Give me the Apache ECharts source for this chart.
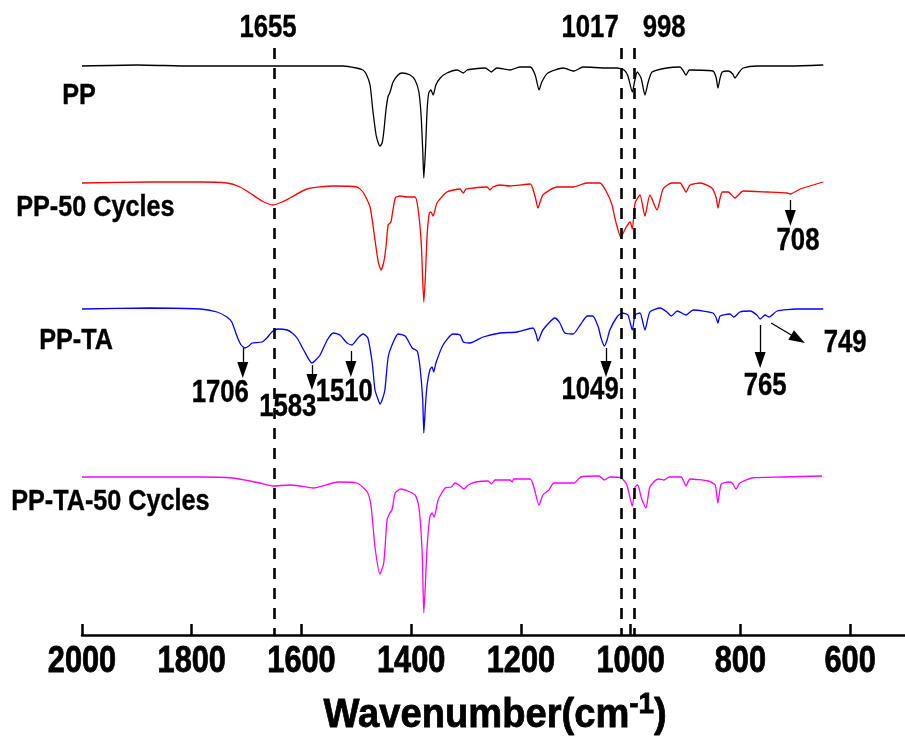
<!DOCTYPE html>
<html>
<head>
<meta charset="utf-8">
<script src="https://cdn.jsdelivr.net/npm/echarts@6.0.0/dist/echarts.min.js"></script>
<style>
  html, body { margin: 0; padding: 0; background: #fff; }
  #chart { width: 905px; height: 736px; }
</style>
</head>
<body>
<div id="chart"></div>
<script>
// FTIR spectra, [wavenumber (cm-1), offset transmittance (a.u.)]
const ppData = [
  [2000,569],[1900,570],[1800,569],[1700,569],[1600,569],[1524,569],[1500,567],[1488,565],[1482,561],
  [1475,550],[1470,525],[1464,500],[1460,492],[1457,489],[1453,492],[1450,503],[1446,525],[1442,539],
  [1439,542],[1433,553],[1424,560],[1417,562],[1402,560],[1393,555],[1386,543],[1382,520],[1379,485],
  [1377,457],[1374,485],[1371,525],[1368,542],[1364,545],[1360,540],[1355,550],[1347,557],[1335,562],
  [1316,565],[1305,562],[1298,565],[1287,566],[1265,567],[1254,563],[1244,567],[1220,565],[1202,568],
  [1183,568],[1174,560],[1167,545],[1162,553],[1151,562],[1123,567],[1103,564],[1087,568],[1043,567],
  [1025,567],[1012,565],[1005,559],[997,543],[993,553],[988,563],[981,557],[974,540],[968,553],
  [961,563],[934,567],[910,568],[905,565],[899,560],[893,565],[850,564],[844,557],[841,547],[837,557],
  [833,563],[822,564],[814,561],[810,557],[802,563],[795,567],[770,569],[710,569],[649,570]
];
const pp50Data = [
  [2000,452],[1876,453],[1785,453],[1736,452],[1712,448],[1694,442],[1672,434],[1652,430],[1635,433],
  [1621,437],[1590,446],[1542,449],[1499,448],[1488,443],[1475,428],[1466,395],[1460,373],[1455,365],
  [1450,373],[1446,388],[1442,410],[1437,413],[1429,437],[1420,439],[1408,438],[1393,438],[1388,428],
  [1382,395],[1379,355],[1377,333],[1374,360],[1371,400],[1367,422],[1364,423],[1360,419],[1353,432],
  [1335,443],[1311,446],[1305,442],[1300,446],[1287,447],[1262,448],[1256,445],[1251,448],[1238,450],
  [1220,449],[1183,451],[1174,438],[1169,427],[1160,440],[1134,448],[1105,448],[1080,452],[1056,452],
  [1043,442],[1034,430],[1027,413],[1018,398],[1008,408],[1001,413],[997,406],[992,432],[983,440],
  [974,419],[965,440],[952,425],[941,446],[925,452],[910,452],[899,443],[892,450],[873,452],[852,447],
  [844,437],[841,427],[837,437],[833,443],[822,443],[810,437],[795,444],[751,443],[715,442],[709,441],
  [691,446],[649,453]
];
const ppTaData = [
  [2000,326],[1876,327],[1785,326],[1754,323],[1736,318],[1727,313],[1717,298],[1710,290],[1703,287],
  [1696,289],[1690,292],[1672,293],[1663,297],[1654,303],[1643,306],[1626,305],[1617,302],[1608,297],
  [1594,283],[1581,272],[1574,275],[1566,280],[1553,295],[1542,302],[1530,300],[1517,292],[1508,290],
  [1497,297],[1488,301],[1479,297],[1471,272],[1466,245],[1460,235],[1457,231],[1453,235],[1448,245],
  [1442,278],[1435,290],[1424,301],[1411,299],[1398,287],[1389,284],[1384,268],[1379,235],[1377,202],
  [1374,230],[1371,250],[1366,265],[1362,268],[1359,263],[1355,272],[1342,290],[1324,301],[1311,300],
  [1305,293],[1293,292],[1269,298],[1238,302],[1207,303],[1178,307],[1172,300],[1169,294],[1160,305],
  [1138,317],[1129,312],[1120,302],[1105,301],[1092,310],[1079,319],[1069,319],[1059,308],[1054,297],
  [1048,289],[1043,295],[1038,305],[1025,318],[1016,322],[1005,320],[997,305],[992,320],[983,322],
  [974,305],[965,323],[946,327],[934,323],[926,319],[915,324],[899,320],[886,325],[850,322],[844,317],
  [841,312],[837,319],[819,321],[812,318],[801,323],[782,324],[770,320],[764,316],[755,320],[748,318],
  [733,324],[697,326],[649,326]
];
const ppTa50Data = [
  [2000,158],[1785,158],[1725,157],[1694,154],[1676,152],[1652,149],[1621,150],[1603,149],[1579,147],
  [1533,153],[1499,152],[1480,143],[1473,128],[1466,88],[1457,61],[1450,72],[1444,115],[1439,122],
  [1435,125],[1429,142],[1419,146],[1393,140],[1386,128],[1380,82],[1377,22],[1371,88],[1366,118],
  [1362,122],[1358,118],[1351,135],[1338,147],[1327,148],[1320,152],[1313,150],[1304,146],[1296,150],
  [1282,153],[1260,154],[1254,151],[1247,155],[1220,155],[1216,153],[1213,156],[1183,156],[1176,147],
  [1167,130],[1160,140],[1149,145],[1140,152],[1103,152],[1091,158],[1058,159],[1048,155],[1038,158],
  [1017,157],[1007,150],[997,129],[992,148],[987,150],[981,138],[972,127],[965,148],[950,156],
  [939,155],[930,158],[908,158],[899,149],[892,156],[859,154],[846,150],[841,132],[835,151],[821,153],
  [815,152],[808,146],[801,152],[779,157],[724,158],[651,159]
];

const seriesNames = ['PP', 'PP-50 Cycles', 'PP-TA', 'PP-TA-50 Cycles'];
const seriesColors = ['#000000', '#ff0000', '#0000ff', '#ff00ff'];
const nameAnchors = [[2036, 539], [2120, 427], [2078, 294], [2129, 133]];

const tickValues = [2000, 1800, 1600, 1400, 1200, 1000, 800, 600];

// vertical reference lines and their labels
const refLineX = [1650, 1018, 993];
const refLabels = ['1655', '1017', '998'];
const refLabelPos = [[1661, 607], [1074, 607], [939, 607]];

// peak annotations: label, label position, arrow start, arrow end
const annoLabels = ['708', '1706', '1583', '1510', '1049', '765', '749'];
const annoLabelPos = [[695,394],[1748,242],[1625,228],[1522,243],[1074,245],[755,249],[609,292]];
const arrowFrom = [[709,435],[1707,287],[1581,270],[1510,284],[1045,287],[764,310],[744,312]];
const arrowTo = [[709,417],[1707,265],[1581,253],[1510,266],[1045,266],[764,275],[695,296]];

const FONT = '"Liberation Sans", Arial, sans-serif';

const chart = echarts.init(document.getElementById('chart'), null, { renderer: 'canvas' });

const spectra = [ppData, pp50Data, ppTaData, ppTa50Data].map((d, i) => ({
  name: seriesNames[i],
  type: 'line',
  data: d,
  showSymbol: false,
  symbol: 'none',
  smooth: 0.2,
  lineStyle: { color: seriesColors[i], width: 1.3 },
  z: 3
}));

// dashed reference lines and arrows hang off the first series
spectra[0].markLine = {
  silent: true,
  animation: false,
  label: { show: false },
  data: [
    ...refLineX.map(x => [
      { coord: [x, 587], symbol: 'none', lineStyle: { type: [11, 9], width: 2.6, color: '#000' } },
      { coord: [x, 0], symbol: 'none' }
    ]),
    ...arrowFrom.map((p, i) => [
      { coord: p, symbol: 'none', lineStyle: { type: 'solid', width: 1.3, color: '#000' } },
      { coord: arrowTo[i], symbol: 'triangle', symbolSize: [11, 16] }
    ])
  ]
};

chart.setOption({
  animation: false,
  backgroundColor: '#fff',
  grid: { left: 82, right: 0, top: 0, bottom: 101, containLabel: false },
  xAxis: {
    type: 'value',
    inverse: true,
    min: 500,
    max: 2000,
    axisLine: { show: true, lineStyle: { color: '#000', width: 2.5 } },
    axisTick: { show: true, inside: true, length: 11, customValues: tickValues, lineStyle: { color: '#000', width: 2.5 } },
    axisLabel: { show: false },
    splitLine: { show: false }
  },
  yAxis: { type: 'value', min: 0, max: 635, show: false },
  series: spectra
});

// text drawn as condensed bold (Arial Narrow look), placed through the axes
const toPx = p => chart.convertToPixel({ seriesIndex: 0 }, p);
const txt = (p, text, size, align, sx, stroke) => {
  const [x, y] = toPx(p);
  return {
    type: 'text', x: x, y: y, scaleX: sx, z: 10, silent: true,
    style: {
      text: text, fontFamily: FONT, fontWeight: 'bold', fontSize: size, fill: '#000',
      stroke: '#000', lineWidth: stroke, align: align, verticalAlign: 'middle'
    }
  };
};

const graphics = [
  ...tickValues.map(t => txt([t, -27], String(t), 37, 'center', 0.83, 0.8)),
  ...seriesNames.map((n, i) => txt(nameAnchors[i], n, 30, 'left', 0.84, 0.4)),
  ...annoLabels.map((n, i) => txt(annoLabelPos[i], n, 31, 'center', 0.83, 0.4)),
  ...refLabels.map((n, i) => txt(refLabelPos[i], n, 31, 'center', 0.83, 0.4))
];

const [nx, ny] = toPx([1247, -78]);
graphics.push({
  type: 'text', x: nx, y: ny, scaleX: 0.93, z: 10, silent: true,
  style: {
    text: '{a|Wavenumber(cm}{b|-1}{a|)}',
    align: 'center', verticalAlign: 'middle',
    rich: {
      a: { fontFamily: FONT, fontWeight: 'bold', fontSize: 41, fill: '#000', stroke: '#000', lineWidth: 0.8, lineHeight: 46, verticalAlign: 'bottom' },
      b: { fontFamily: FONT, fontWeight: 'bold', fontSize: 30, fill: '#000', stroke: '#000', lineWidth: 0.8, lineHeight: 4, verticalAlign: 'top' }
    }
  }
});

chart.setOption({ graphic: graphics });
</script>
</body>
</html>
